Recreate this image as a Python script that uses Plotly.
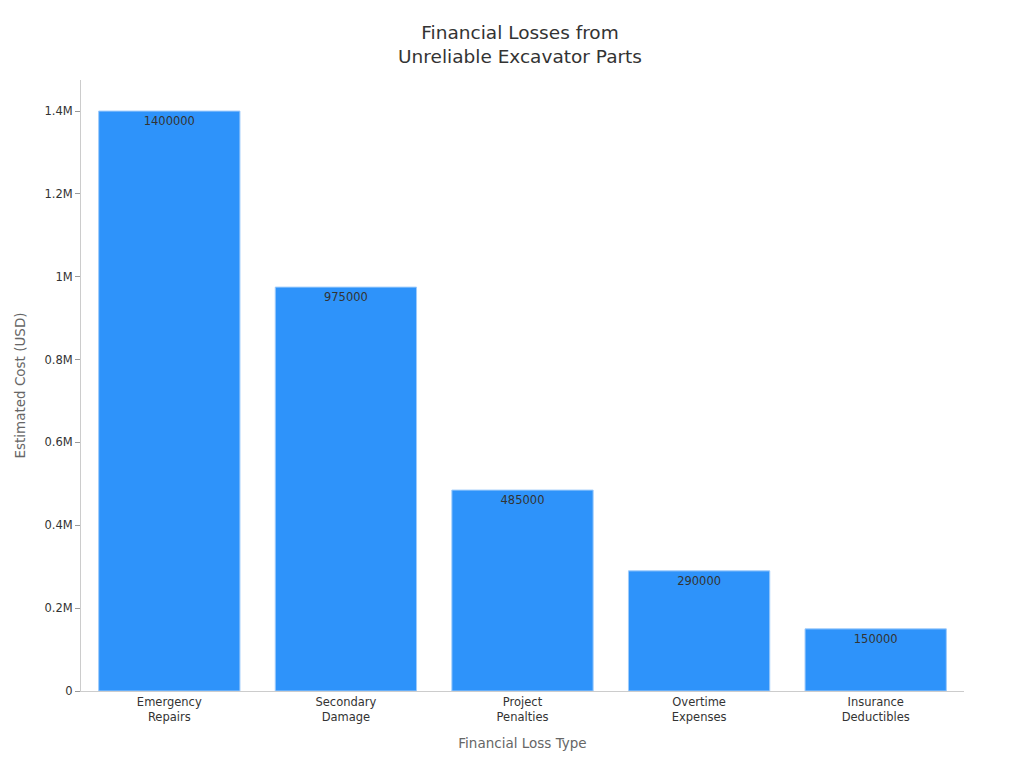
import plotly.graph_objects as go

categories = ["Emergency<br>Repairs", "Secondary<br>Damage", "Project<br>Penalties",
              "Overtime<br>Expenses", "Insurance<br>Deductibles"]
costs = [1400000, 975000, 485000, 290000, 150000]

fig = go.Figure(go.Bar(
    x=categories, y=costs, text=costs, textposition="inside",
    insidetextanchor="end", textfont=dict(color="#333333", size=11.5),
    marker=dict(color="#2E93FA", line=dict(color="#9ECBFB", width=1)),
    width=0.8,
))

fig.update_layout(
    width=1024, height=768,
    font=dict(family="DejaVu Sans", color="#444444", size=11.5),
    title=dict(text="Financial Losses from<br>Unreliable Excavator Parts",
               x=0.5, xanchor="center", y=0.96, font=dict(size=18.5, color="#333333")),
    plot_bgcolor="white", paper_bgcolor="white",
    margin=dict(l=67, r=68, t=72, b=85),
    showlegend=False,
    xaxis=dict(title=dict(text="Financial Loss Type", font=dict(size=13.5, color="#666666")),
               showline=True, linecolor="#cccccc", ticks="", tickfont=dict(size=11.5, color="#333333")),
    yaxis=dict(title=dict(text="Estimated Cost (USD)", font=dict(size=13.5, color="#666666")),
               range=[0, 1475000], showline=True, linecolor="#cccccc", ticks="outside",
               tickcolor="#999999", ticklen=5, showgrid=False, zeroline=False,
               tickvals=[0, 200000, 400000, 600000, 800000, 1000000, 1200000, 1400000],
               ticktext=["0", "0.2M", "0.4M", "0.6M", "0.8M", "1M", "1.2M", "1.4M"],
               tickfont=dict(size=11.5, color="#333333")),
)

fig.write_html("out.html")
